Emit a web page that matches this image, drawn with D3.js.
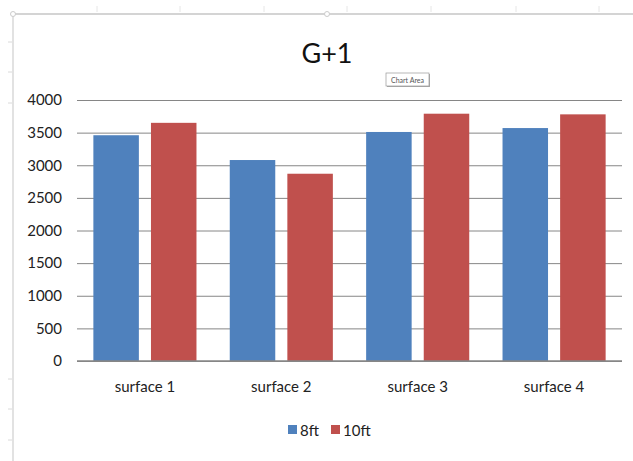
<!DOCTYPE html>
<html><head><meta charset="utf-8">
<script src="https://cdn.jsdelivr.net/npm/d3@7"></script>
<style>body{margin:0;background:#fff}svg{display:block}text{font-family:Lato,"Open Sans",sans-serif}</style>
</head><body>
<script>
const categories = ["surface 1","surface 2","surface 3","surface 4"];
const seriesNames = ["8ft","10ft"];
const values8ft = [3460,3080,3510,3570];
const values10ft = [3650,2870,3790,3780];
const yTicks = [0,500,1000,1500,2000,2500,3000,3500,4000];
const colors = ["#4f81bd","#c0504d"];

const W=633,H=461;
const svg=d3.select("body").append("svg").attr("width",W).attr("height",H);

// window frame (Excel sheet edges)
svg.append("line").attr("x1",12).attr("x2",W).attr("y1",14).attr("y2",14).attr("stroke","#d4d4d4").attr("stroke-width",2);
svg.append("line").attr("x1",13).attr("x2",13).attr("y1",12).attr("y2",H).attr("stroke","#e2e2e2").attr("stroke-width",2);
[97,180,264,347,431,516,599].forEach(x=>svg.append("line").attr("x1",x).attr("x2",x).attr("y1",6).attr("y2",12).attr("stroke","#e6e6e6"));
[42,72,103,379,409,440].forEach(y=>svg.append("line").attr("x1",8).attr("x2",12).attr("y1",y).attr("y2",y).attr("stroke","#dadada"));
svg.append("circle").attr("cx",13).attr("cy",14).attr("r",2.5).attr("fill","#fff").attr("stroke","#ccc");
svg.append("circle").attr("cx",327).attr("cy",14).attr("r",2.5).attr("fill","#fff").attr("stroke","#ccc");

const x0=d3.scaleBand().domain(categories).range([77,622]).paddingInner(0.244).paddingOuter(0.12);
const x1=d3.scaleBand().domain(seriesNames).range([0,x0.bandwidth()]).paddingInner(0.21);
const y=d3.scaleLinear().domain([0,4000]).range([361,100]);

// gridlines
const yAxis=d3.axisLeft(y).tickValues(yTicks).tickFormat(d3.format("d")).tickSize(-(622-77)).tickPadding(15);
const ga=svg.append("g").attr("transform","translate(77,0)").call(yAxis);
ga.select(".domain").remove();
ga.selectAll(".tick line").attr("stroke","#868686").attr("stroke-width",1);
ga.selectAll(".tick text").attr("font-size",15).attr("fill","#222");

const data=categories.map((c,i)=>({c,vals:[values8ft[i],values10ft[i]]}));
const g=svg.append("g");
data.forEach(d=>{
  d.vals.forEach((v,j)=>{
    g.append("rect").attr("x",x0(d.c)+x1(seriesNames[j])).attr("y",y(v))
     .attr("width",x1.bandwidth()).attr("height",y(0)-y(v)).attr("fill",colors[j]);
  });
});
svg.append("line").attr("x1",77).attr("x2",622).attr("y1",361).attr("y2",361).attr("stroke","#868686").attr("stroke-width",1.5);

const xa=svg.append("g").attr("transform","translate(0,361)").call(d3.axisBottom(x0).tickSize(0).tickPadding(20));
xa.select(".domain").remove();
xa.selectAll("text").attr("font-size",15).attr("fill","#222");

svg.append("text").attr("x",327).attr("y",63).attr("text-anchor","middle").attr("font-size",27).attr("fill","#111").text("G+1");

// tooltip
const tt=svg.append("g").attr("transform","translate(386,73)");
tt.append("rect").attr("x",1).attr("y",1).attr("width",43).attr("height",13).attr("fill","#aaa");
tt.append("rect").attr("width",43).attr("height",13).attr("fill","#fff").attr("stroke","#999").attr("stroke-width",0.7);
tt.append("text").attr("x",21.5).attr("y",9.5).attr("text-anchor","middle").attr("font-size",7).attr("fill","#555").text("Chart Area");

// legend
const lg=svg.append("g");
const legendItems=[{n:"8ft",x:288},{n:"10ft",x:331}];
legendItems.forEach((it,j)=>{
  lg.append("rect").attr("x",it.x).attr("y",425).attr("width",9).attr("height",9).attr("fill",colors[j]);
  lg.append("text").attr("x",it.x+12).attr("y",436).attr("font-size",15).attr("fill","#222").text(it.n);
});
</script>
</body></html>
